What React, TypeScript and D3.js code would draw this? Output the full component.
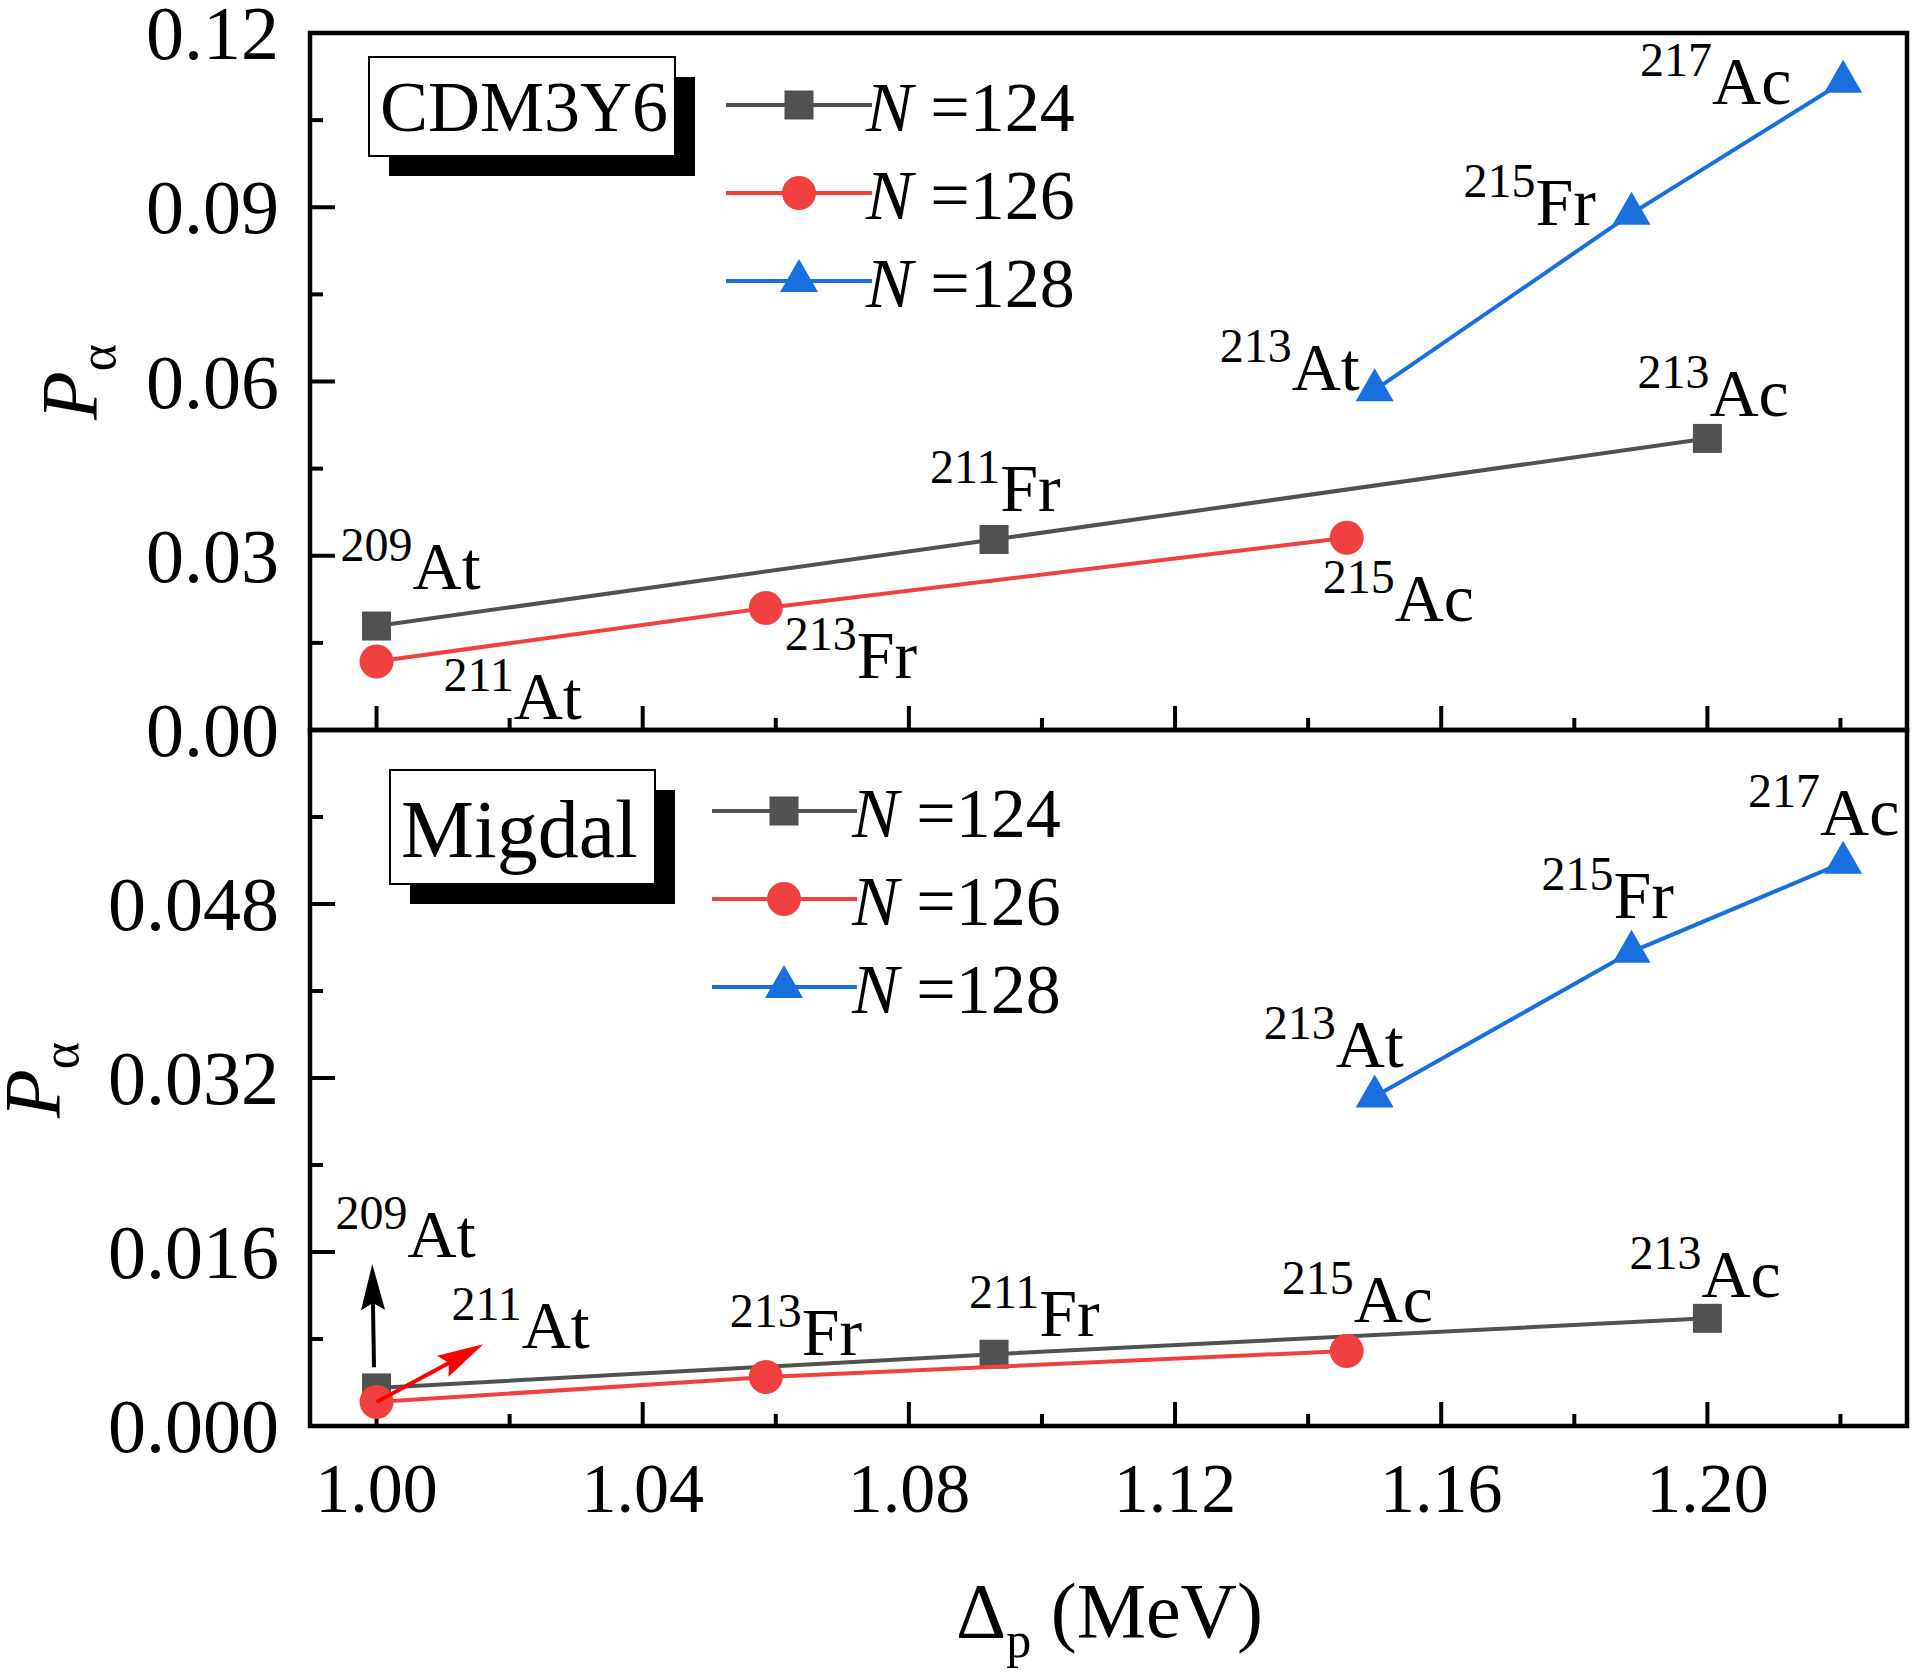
import * as d3 from 'd3';

// x positions (pairing gap, MeV) per isotone chain
const deltaN124 = [1.0, 1.0928, 1.2];
const deltaN126 = [1.0, 1.0585, 1.1458];
const deltaN128 = [1.15, 1.1886, 1.2204];

// P_alpha, CDM3Y6 panel
const cdmN124 = [0.0179, 0.0328, 0.0502];
const cdmN126 = [0.0118, 0.021, 0.0331];
const cdmN128 = [0.0585, 0.0889, 0.1116];

// P_alpha, Migdal panel
const migN124 = [0.0035, 0.0066, 0.0099];
const migN126 = [0.0022, 0.0045, 0.0069];
const migN128 = [0.0303, 0.0436, 0.0518];

// nuclei names for each point
const nucleiN124 = [['209', 'At'], ['211', 'Fr'], ['213', 'Ac']];
const nucleiN126 = [['211', 'At'], ['213', 'Fr'], ['215', 'Ac']];
const nucleiN128 = [['213', 'At'], ['215', 'Fr'], ['217', 'Ac']];

const seriesNames = ['124', '126', '128'];
const xTicks = [1.0, 1.04, 1.08, 1.12, 1.16, 1.2];
const xMinor = [1.02, 1.06, 1.1, 1.14, 1.18, 1.22];
const cdmTicks = [0, 0.03, 0.06, 0.09, 0.12];
const cdmMinor = [0.015, 0.045, 0.075, 0.105];
const migTicks = [0, 0.016, 0.032, 0.048];
const migMinor = [0.008, 0.024, 0.04, 0.056];

// label placement (pixel offsets from the point), per panel, per series
const cdmLabelOffsets = [
  [[-36, -37], [-64, -28], [-70, -22]],
  [[67, 58], [19, 70], [-24, 83]],
  [[-155, 0], [-168, 11], [-203, 22]],
];
const migLabelOffsets = [
  [[-41, -131], [-25, -18], [-78, -21]],
  [[75, -54], [-36, -22], [-65, -29]],
  [[-111, -29], [-90, -34], [-95, -28]],
];

// arrows in the Migdal panel: from / to in data units
const migArrows = [
  { from: [0.99962, 0.0054], to: [0.99936, 0.0149], color: '#000000' },
  { from: [1.0, 0.0022], to: [1.01604, 0.00751], color: '#FF0000' },
];

const COLORS = ['#515151', '#F14040', '#1A6FDF'];
const SHAPES = ['square', 'circle', 'triangle'];
const FONT = '"Liberation Serif", "Times New Roman", serif';

const W = 1914;
const H = 1672;
const left = 310;
const right = 1907;
const top = 33;
const mid = 730;
const bottom = 1426;

const x = d3.scaleLinear().domain([0.99, 1.23]).range([left, right]);
const yTop = d3.scaleLinear().domain([0, 0.12]).range([mid, top]);
const yBot = d3.scaleLinear().domain([0, 0.064]).range([bottom, mid]);

function Marker({ shape, cx, cy, color }: { shape: string; cx: number; cy: number; color: string }) {
  if (shape === 'square') {
    return <rect x={cx - 14.5} y={cy - 14.5} width={29} height={29} fill={color} />;
  }
  if (shape === 'circle') {
    return <circle cx={cx} cy={cy} r={17} fill={color} />;
  }
  return <path d={`M${cx},${cy - 22}L${cx - 19},${cy + 11}L${cx + 19},${cy + 11}Z`} fill={color} />;
}

function Nucleus({ x0, y0, mass, el }: { x0: number; y0: number; mass: string; el: string }) {
  return (
    <text x={x0} y={y0} fontFamily={FONT} fontSize={68} fill="#000">
      <tspan fontSize={48} dy={-28}>{mass}</tspan>
      <tspan dy={28}>{el}</tspan>
    </text>
  );
}

function Arrow({ x0, y0, x1, y1, color }: { x0: number; y0: number; x1: number; y1: number; color: string }) {
  const ang = Math.atan2(y1 - y0, x1 - x0);
  const L = 46;
  const hw = 12;
  const bx = x1 - L * Math.cos(ang);
  const by = y1 - L * Math.sin(ang);
  const nx = -Math.sin(ang);
  const ny = Math.cos(ang);
  const notchX = x1 - L * 0.85 * Math.cos(ang);
  const notchY = y1 - L * 0.85 * Math.sin(ang);
  return (
    <g>
      <line x1={x0} y1={y0} x2={notchX} y2={notchY} stroke={color} strokeWidth={4} />
      <path
        d={`M${x1},${y1}L${bx + nx * hw},${by + ny * hw}L${notchX},${notchY}L${bx - nx * hw},${by - ny * hw}Z`}
        fill={color}
      />
    </g>
  );
}

type PanelProps = {
  y: d3.ScaleLinear<number, number>;
  values: number[][];
  offsets: number[][][];
  ticks: number[];
  minor: number[];
  fmt: (v: number) => string;
  labelTicks: number[];
  legendX: number[]; // line start, line end, marker, text
  legendY: number[];
  box: { x: number; y: number; w: number; h: number; text: string; size: number; tx: number; ty: number };
  title: { x: number; y: number };
};

const deltas = [deltaN124, deltaN126, deltaN128];
const nuclei = [nucleiN124, nucleiN126, nucleiN128];

function Panel({ y, values, offsets, ticks, minor, fmt, labelTicks, legendX, legendY, box, title }: PanelProps) {
  const [y0, y1] = y.range();
  const line = d3
    .line<[number, number]>()
    .x((d) => x(d[0]))
    .y((d) => y(d[1]));
  return (
    <g>
      {/* y ticks */}
      {ticks.map((t) => (
        <line key={'ym' + t} x1={left} x2={left + 25} y1={y(t)} y2={y(t)} stroke="#000" strokeWidth={4} />
      ))}
      {minor.map((t) => (
        <line key={'yn' + t} x1={left} x2={left + 13} y1={y(t)} y2={y(t)} stroke="#000" strokeWidth={4} />
      ))}
      {labelTicks.map((t) => (
        <text key={'yl' + t} x={left - 31} y={y(t)} dy={26} textAnchor="end" fontFamily={FONT} fontSize={76}>
          {fmt(t)}
        </text>
      ))}
      {/* x ticks on panel bottom */}
      {xTicks.map((t) => (
        <line key={'xm' + t} x1={x(t)} x2={x(t)} y1={y0} y2={y0 - 24} stroke="#000" strokeWidth={4} />
      ))}
      {xMinor.map((t) => (
        <line key={'xn' + t} x1={x(t)} x2={x(t)} y1={y0} y2={y0 - 12} stroke="#000" strokeWidth={4} />
      ))}
      {/* frame */}
      <rect x={left} y={y1} width={right - left} height={y0 - y1} fill="none" stroke="#000" strokeWidth={4.5} />

      {/* title box with shadow */}
      <rect x={box.x + 20} y={box.y + 20} width={box.w} height={box.h} fill="#000" />
      <rect x={box.x} y={box.y} width={box.w} height={box.h} fill="#fff" stroke="#000" strokeWidth={2} />
      <text x={box.tx} y={box.ty} fontFamily={FONT} fontSize={box.size}>
        {box.text}
      </text>

      {/* legend */}
      {seriesNames.map((n, i) => (
        <g key={'lg' + n}>
          <line x1={legendX[0]} x2={legendX[1]} y1={legendY[i]} y2={legendY[i]} stroke={COLORS[i]} strokeWidth={4} />
          <Marker shape={SHAPES[i]} cx={legendX[2]} cy={legendY[i]} color={COLORS[i]} />
          <text x={legendX[3]} y={legendY[i] + 26} fontFamily={FONT} fontSize={70}>
            <tspan fontStyle="italic">N</tspan>
            <tspan> =</tspan>
            <tspan>{n}</tspan>
          </text>
        </g>
      ))}

      {/* series */}
      {values.map((vals, i) => {
        const pts = vals.map((v, j) => [deltas[i][j], v] as [number, number]);
        return (
          <g key={'s' + i}>
            <path d={line(pts) || ''} fill="none" stroke={COLORS[i]} strokeWidth={4} />
            {pts.map((p, j) => (
              <Marker key={j} shape={SHAPES[i]} cx={x(p[0])} cy={y(p[1])} color={COLORS[i]} />
            ))}
          </g>
        );
      })}

      {/* nucleus labels */}
      {values.map((vals, i) =>
        vals.map((v, j) => (
          <Nucleus
            key={'n' + i + j}
            x0={x(deltas[i][j]) + offsets[i][j][0]}
            y0={y(v) + offsets[i][j][1]}
            mass={nuclei[i][j][0]}
            el={nuclei[i][j][1]}
          />
        ))
      )}

      {/* y title */}
      <text transform={`translate(${title.x},${title.y}) rotate(-90)`} textAnchor="middle" fontFamily={FONT} fontSize={80}>
        <tspan fontStyle="italic">P</tspan>
        <tspan fontSize={52} dy={18}>α</tspan>
      </text>
    </g>
  );
}

export default function App() {
  return (
    <svg
      width={W}
      height={H}
      viewBox={`0 0 ${W} ${H}`}
      style={{ position: 'absolute', left: 0, top: 0, background: '#fff' }}
    >
      <rect width={W} height={H} fill="#fff" />
      <Panel
        y={yTop}
        values={[cdmN124, cdmN126, cdmN128]}
        offsets={cdmLabelOffsets}
        ticks={cdmTicks}
        minor={cdmMinor}
        fmt={d3.format('.2f')}
        labelTicks={cdmTicks}
        legendX={[726, 872, 799, 866]}
        legendY={[105, 193, 281]}
        box={{ x: 369, y: 57, w: 306, h: 99, text: 'CDM3Y6', size: 72, tx: 380, ty: 131 }}
        title={{ x: 97, y: 382 }}
      />
      <Panel
        y={yBot}
        values={[migN124, migN126, migN128]}
        offsets={migLabelOffsets}
        ticks={[...migTicks, 0.064]}
        minor={migMinor}
        fmt={d3.format('.3f')}
        labelTicks={migTicks}
        legendX={[712, 857, 784, 852]}
        legendY={[811, 899, 987]}
        box={{ x: 390, y: 770, w: 265, h: 114, text: 'Migdal', size: 82, tx: 401, ty: 857 }}
        title={{ x: 60, y: 1080 }}
      />
      {migArrows.map((a, i) => (
        <Arrow
          key={'ar' + i}
          x0={x(a.from[0])}
          y0={yBot(a.from[1])}
          x1={x(a.to[0])}
          y1={yBot(a.to[1])}
          color={a.color}
        />
      ))}
      {/* x tick labels and title */}
      {xTicks.map((t) => (
        <text key={'xl' + t} x={x(t)} y={1512} textAnchor="middle" fontFamily={FONT} fontSize={70}>
          {d3.format('.2f')(t)}
        </text>
      ))}
      <text x={956} y={1637} fontFamily={FONT} fontSize={78}>
        <tspan>Δ</tspan>
        <tspan fontSize={50} dy={20}>p</tspan>
        <tspan dy={-20}> (MeV)</tspan>
      </text>
    </svg>
  );
}
